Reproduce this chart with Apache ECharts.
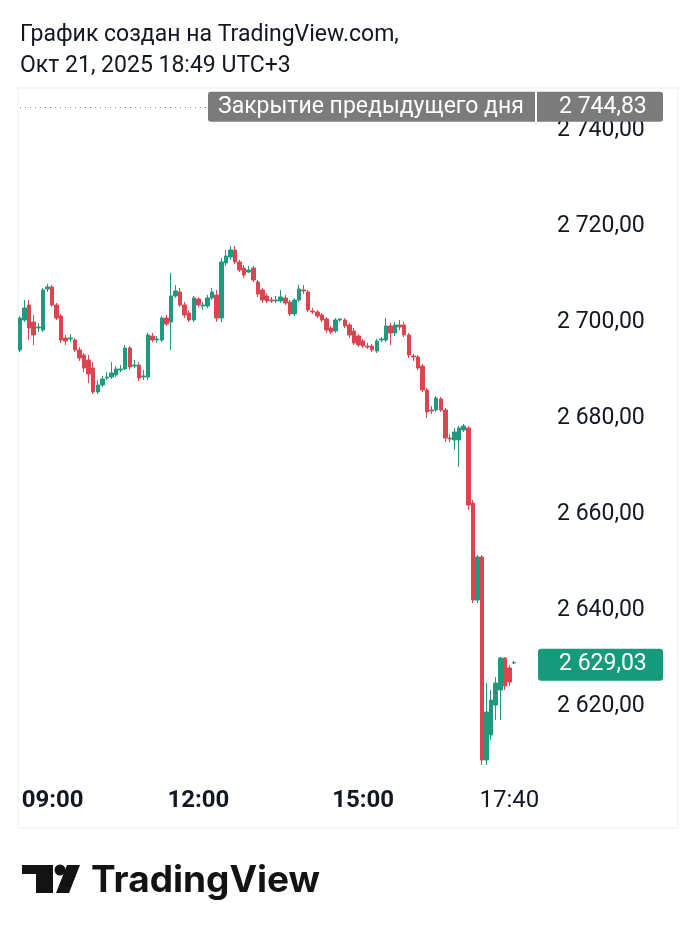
<!DOCTYPE html>
<html><head><meta charset="utf-8">
<script src="https://cdn.jsdelivr.net/npm/echarts@6/dist/echarts.min.js"></script>
<style>html,body{margin:0;padding:0;background:#fff;width:690px;height:936px;overflow:hidden}#c{width:690px;height:936px}</style>
</head><body><div id="c"></div>
<script>
const times = [
'08:45','08:50','08:55',
'09:00','09:05','09:10','09:15','09:20','09:25','09:30','09:35','09:40','09:45','09:50','09:55',
'10:00','10:05','10:10','10:15','10:20','10:25','10:30','10:35','10:40','10:45','10:50','10:55',
'11:00','11:05','11:10','11:15','11:20','11:25','11:30','11:35','11:40','11:45','11:50','11:55',
'12:00','12:05','12:10','12:15','12:20','12:25','12:30','12:35','12:40','12:45','12:50','12:55',
'13:00','13:05','13:10','13:15','13:20','13:25','13:30','13:35','13:40','13:45','13:50','13:55',
'14:00','14:05','14:10','14:15','14:20','14:25','14:30','14:35','14:40','14:45','14:50','14:55',
'15:00','15:05','15:10','15:15','15:20','15:25','15:30','15:35','15:40','15:45','15:50','15:55',
'16:00','16:05','16:10','16:15','16:20','16:25','16:30','16:35','16:40','16:45','16:50','16:55',
'17:00','17:05','17:10','17:15','17:20','17:25','17:30','17:35','17:40','17:45'];

const opens = [
2694.17,2700.42,2703.54,2700.00,2698.75,2698.33,2706.88,2707.29,2703.54,2701.25,
2696.67,2696.46,2696.25,2694.17,2693.13,2692.08,2690.42,2685.42,2686.88,2688.33,
2688.54,2688.96,2690.00,2690.21,2694.58,2690.83,2691.04,2688.54,2688.54,2697.08,
2696.25,2696.25,2700.83,2700.00,2705.42,2706.25,2703.54,2701.88,2700.42,2704.79,
2703.33,2703.33,2705.00,2705.63,2700.83,2712.29,2713.54,2715.00,2712.50,2711.25,
2710.42,2711.25,2708.33,2706.67,2705.42,2704.58,2704.38,2704.38,2705.00,2704.17,
2701.67,2704.58,2706.67,2706.25,2702.29,2702.08,2701.46,2700.63,2698.75,2698.13,
2700.42,2700.42,2699.38,2698.13,2697.08,2696.04,2695.00,2695.00,2693.96,2696.25,
2696.25,2699.17,2697.71,2699.38,2699.38,2697.29,2692.92,2692.71,2690.83,2685.83,
2681.67,2681.67,2683.96,2681.67,2675.83,2675.42,2675.42,2677.50,2677.92,2662.29,
2642.08,2651.04,2608.75,2613.96,2620.21,2623.33,2630.00,2627.92,2628.96];

const closes = [
2700.83,2702.92,2698.75,2697.29,2698.96,2706.67,2707.29,2703.54,2700.83,2696.25,
2696.04,2696.67,2694.17,2692.50,2690.42,2689.17,2685.42,2686.88,2688.13,2688.54,
2689.38,2690.21,2690.21,2694.58,2690.63,2691.04,2688.33,2688.75,2697.29,2696.25,
2696.46,2700.83,2699.58,2705.42,2706.46,2703.54,2701.46,2700.42,2705.00,2703.54,
2703.54,2705.00,2706.25,2700.83,2712.50,2713.75,2715.00,2712.50,2710.83,2709.79,
2710.83,2708.75,2705.83,2704.58,2704.38,2704.38,2704.58,2705.21,2703.96,2701.67,
2704.58,2706.88,2706.46,2702.50,2702.08,2701.25,2700.42,2698.33,2697.92,2700.42,
2700.63,2699.17,2697.29,2695.63,2695.21,2695.00,2694.79,2694.17,2696.04,2696.46,
2699.17,2697.71,2699.38,2698.96,2697.29,2693.13,2692.71,2690.42,2685.83,2681.25,
2681.46,2684.17,2681.67,2675.83,2675.63,2677.08,2677.92,2678.33,2661.88,2642.08,
2651.04,2608.75,2618.75,2621.25,2624.79,2630.00,2624.17,2625.00,2629.03];

const lows = [
2693.75,2700.00,2696.25,2695.21,2697.92,2697.92,2706.25,2703.13,2700.42,2695.63,
2695.21,2695.83,2693.75,2691.88,2689.58,2687.29,2685.00,2685.00,2686.46,2687.92,
2688.13,2688.54,2689.58,2690.00,2690.00,2690.42,2687.71,2687.92,2687.92,2695.83,
2695.63,2695.83,2699.17,2694.17,2705.00,2703.13,2700.83,2700.00,2700.00,2703.13,
2702.50,2702.92,2704.58,2700.00,2700.00,2711.67,2712.92,2712.08,2710.42,2709.17,
2710.21,2708.33,2705.21,2703.96,2703.96,2703.96,2703.96,2703.96,2703.54,2701.25,
2701.25,2704.17,2705.83,2702.08,2701.67,2700.83,2700.00,2697.71,2697.50,2697.71,
2700.00,2698.75,2696.67,2695.21,2694.79,2694.58,2694.38,2693.75,2693.54,2695.83,
2695.83,2695.21,2697.08,2698.33,2696.88,2692.50,2691.88,2690.00,2685.42,2680.00,
2680.83,2681.25,2681.25,2675.00,2675.00,2673.33,2669.79,2677.08,2660.83,2641.46,
2641.46,2607.71,2607.71,2612.92,2617.08,2617.08,2623.33,2624.17,2628.75];

const highs = [
2701.25,2704.58,2704.58,2701.46,2699.79,2707.08,2707.92,2707.71,2703.96,2701.67,
2697.29,2697.50,2696.67,2694.79,2693.54,2693.13,2691.67,2687.92,2688.75,2689.58,
2691.67,2690.83,2691.04,2695.21,2695.00,2692.08,2691.67,2690.00,2697.71,2697.71,
2697.08,2701.25,2701.46,2710.21,2707.71,2707.08,2704.17,2702.50,2705.42,2705.21,
2704.17,2705.63,2707.08,2706.67,2713.33,2715.00,2715.83,2715.83,2712.92,2711.88,
2711.67,2711.67,2708.75,2707.08,2706.04,2705.21,2705.42,2706.67,2705.63,2704.58,
2705.00,2707.71,2707.71,2706.67,2702.92,2702.50,2701.88,2701.04,2699.17,2700.83,
2700.83,2700.83,2699.79,2698.75,2697.50,2696.46,2695.63,2695.42,2696.46,2696.88,
2700.83,2699.79,2700.00,2700.42,2700.00,2697.71,2693.33,2693.13,2691.25,2686.25,
2682.50,2684.58,2684.38,2682.08,2676.67,2677.92,2678.33,2678.75,2678.33,2662.92,
2651.46,2651.46,2624.79,2623.33,2626.04,2630.21,2630.21,2628.54,2629.38];

const timeLabels = ['09:00','12:00','15:00','17:40'];
const boldLabels = ['09:00','12:00','15:00'];
const prevClose = 2744.83;
const lastPrice = 2629.03;
const titleLines = ['График создан на TradingView.com,', 'Окт 21, 2025 18:49 UTC+3'];
const prevCloseText = 'Закрытие предыдущего дня';
const brandText = 'TradingView';

const UP = '#1f9a7e', DOWN = '#dc4450', INK = '#131722', FONT = 'Roboto';

function fmt(v) {
  const s = v.toFixed(2);
  const parts = s.split('.');
  return parts[0].replace(/\B(?=(\d{3})+(?!\d))/g, ' ') + ',' + parts[1];
}

const chart = echarts.init(document.getElementById('c'), null, {renderer: 'canvas'});
const option = {
  animation: false,
  backgroundColor: '#ffffff',
  title: {
    text: titleLines.join('\n'), left: 20, top: 20, padding: 0,
    textStyle: {fontSize: 23, fontWeight: 'normal', color: INK, lineHeight: 31, fontFamily: FONT}
  },
  grid: {left: 20, right: 176, top: 90, bottom: 134},
  xAxis: {
    type: 'category', data: times, boundaryGap: false,
    axisLine: {show: false}, axisTick: {show: false}, splitLine: {show: false},
    axisLabel: {
      interval: function (i, v) { return timeLabels.indexOf(v) >= 0; },
      margin: -13,
      formatter: function (v) {
        if (v === timeLabels[0]) return '{f|' + v + '}';
        return boldLabels.indexOf(v) >= 0 ? '{b|' + v + '}' : '{n|' + v + '}';
      },
      rich: {
        f: {fontWeight: 'bold', fontSize: 24, color: INK, fontFamily: FONT, padding: [0, 0, 0, 38]},
        b: {fontWeight: 'bold', fontSize: 24, color: INK, fontFamily: FONT},
        n: {fontWeight: 'normal', fontSize: 24, color: INK, fontFamily: FONT}
      }
    }
  },
  yAxis: {
    type: 'value', position: 'right', min: 2600, max: 2748.33, interval: 20,
    axisLine: {show: false}, axisTick: {show: false}, splitLine: {show: false},
    axisLabel: {
      margin: 43, fontSize: 23, color: INK, fontFamily: FONT,
      formatter: function (v) {
        if (v === 2600 || Math.abs(v % 20) > 1e-6) return '';
        return fmt(v);
      }
    }
  },
  series: [{
    type: 'candlestick',
    data: opens.map(function (o, i) { return [o, closes[i], lows[i], highs[i]]; }),
    barWidth: 4, clip: false,
    itemStyle: {color: UP, color0: DOWN, borderColor: UP, borderColor0: DOWN, borderWidth: 1},
    markLine: {
      symbol: 'none', silent: true, animation: false,
      label: {show: false},
      lineStyle: {type: [1, 4], color: '#8a8d96', width: 1},
      data: [{yAxis: prevClose}]
    }
  }]
};
chart.setOption(option);

const yPrev = chart.convertToPixel({yAxisIndex: 0}, prevClose);
const yLast = chart.convertToPixel({yAxisIndex: 0}, lastPrice);
const GRAY = '#7b7b7b';
chart.setOption({
  graphic: [
    {type: 'rect', z: -1, shape: {x: 18, y: 88, width: 660, height: 740}, style: {fill: 'none', stroke: '#efefef', lineWidth: 1}},
    {type: 'rect', z: 10, shape: {x: 208, y: yPrev - 15, width: 327, height: 30, r: [3, 0, 0, 3]}, style: {fill: GRAY}},
    {type: 'text', z: 11, x: 218, y: yPrev, style: {text: prevCloseText, fill: '#ffffff', font: '23px Roboto', textVerticalAlign: 'middle'}},
    {type: 'rect', z: 10, shape: {x: 537, y: yPrev - 15, width: 126, height: 30, r: [0, 3, 3, 0]}, style: {fill: GRAY}},
    {type: 'text', z: 11, x: 559, y: yPrev, style: {text: fmt(prevClose), fill: '#ffffff', font: '23px Roboto', textVerticalAlign: 'middle'}},
    {type: 'rect', z: 10, shape: {x: 538, y: yLast - 14, width: 125, height: 32, r: 3}, style: {fill: '#169a7c'}},
    {type: 'text', z: 11, x: 559, y: yLast + 2, style: {text: fmt(lastPrice), fill: '#ffffff', font: '23px Roboto', textVerticalAlign: 'middle'}},
    {type: 'rect', shape: {x: 22, y: 865, width: 31, height: 9}, style: {fill: '#131313'}},
    {type: 'rect', shape: {x: 36, y: 865, width: 17, height: 28}, style: {fill: '#131313'}},
    {type: 'circle', shape: {cx: 60, cy: 870, r: 5.5}, style: {fill: '#131313'}},
    {type: 'polygon', shape: {points: [[67, 865], [80, 865], [69, 893], [56, 893]]}, style: {fill: '#131313'}},
    {type: 'text', x: 91, y: 881, style: {text: brandText, fill: '#131313', font: 'bold 37px Inter', textVerticalAlign: 'middle'}}
  ]
});
</script>
</body></html>
